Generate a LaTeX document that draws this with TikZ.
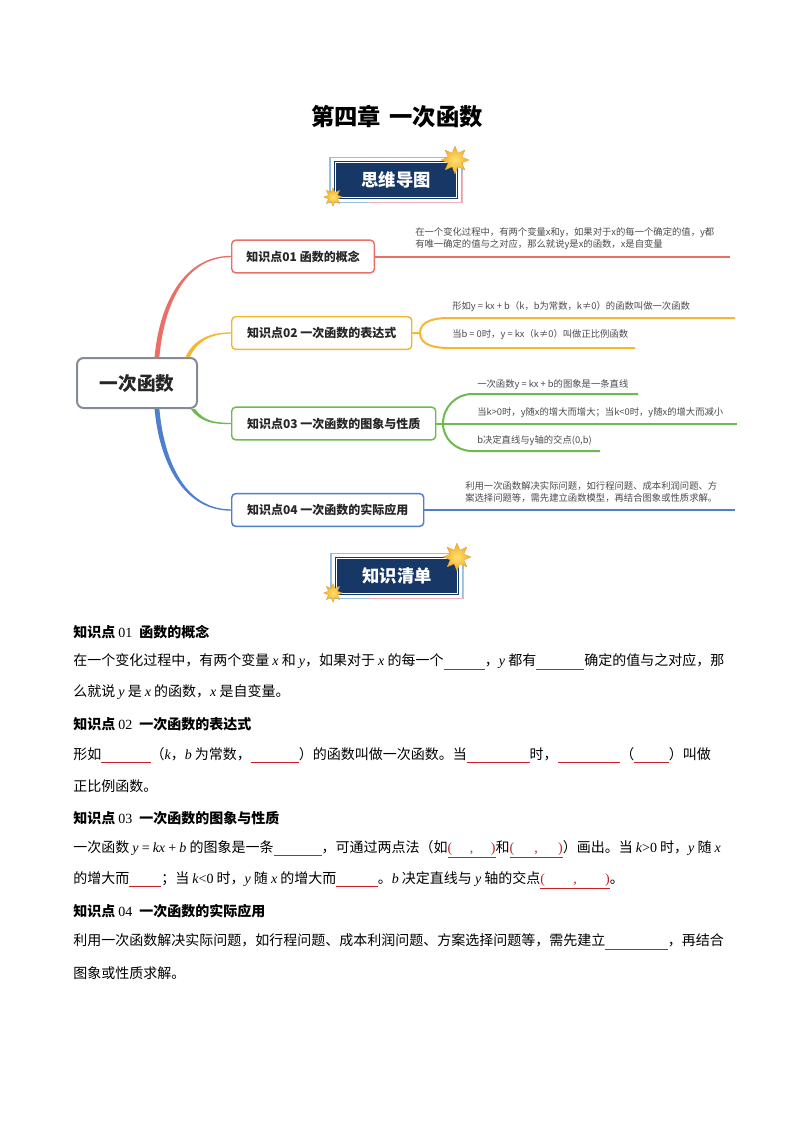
\documentclass[tikz,border=0pt]{standalone}
\usepackage{fontspec}
\setmainfont{Noto Sans CJK SC}
\newfontfamily\tnr{Liberation Serif}
\usepackage{xcolor}
\usetikzlibrary{shapes.geometric}
\definecolor{HubGray}{RGB}{133,139,149}
\definecolor{RedLine}{RGB}{236,111,102}
\definecolor{GoldLine}{RGB}{245,183,49}
\definecolor{GreenLine}{RGB}{109,187,78}
\definecolor{BlueLine}{RGB}{77,127,207}
\definecolor{Navy}{RGB}{23,55,102}
\definecolor{FrameBlue}{RGB}{150,190,225}
\definecolor{FramePink}{RGB}{240,175,185}
\definecolor{StarGold}{RGB}{255,226,110}
\definecolor{StarOrange}{RGB}{244,170,40}
\definecolor{BlankRed}{RGB}{200,30,40}
\newcommand\varit[1]{{\tnr\itshape #1}}
\newcommand\tnrup[1]{{\tnr\mdseries #1}}
\newcommand\blank[1]{\textcolor{BlankRed}{\rule[-3pt]{#1}{0.6pt}}}
\newcommand\pblank[1]{\textcolor{BlankRed}{\underline{\hbox to #1{\tnr(\hfil,\hfil)}}}}
\tikzset{
  hubbox/.style={draw=HubGray,line width=1.5pt,rounded corners=5pt,fill=white,minimum width=90pt,minimum height=37.5pt,font=\fontsize{14pt}{16pt}\selectfont\bfseries,text=black!85},
  topicbox/.style={draw=#1,line width=1.1pt,rounded corners=3pt,fill=white,anchor=west,minimum height=24.5pt,inner xsep=8pt,font=\fontsize{9pt}{11pt}\selectfont\bfseries,text=black!85},
  leaf/.style={draw=#1,line width=1.5pt},
  leafnote/.style={anchor=west,inner sep=0pt,align=left,font=\fontsize{7pt}{9pt}\selectfont,text=black!70},
  bannerframe/.style={draw=FrameBlue,line width=0.8pt,minimum width=99pt,minimum height=33.5pt,inner sep=0pt},
  bannerbox/.style={draw=Navy,fill=Navy,line width=0.6pt,double=white,double distance=1pt,minimum width=91pt,minimum height=26.5pt,text=white,font=\fontsize{13pt}{15pt}\selectfont\bfseries},
  sparkle/.style={star,star points=8,star point ratio=1.9,inner sep=0pt,inner color=StarGold,outer color=StarOrange,draw=StarOrange!90!black,line width=0.2pt},
  bodyline/.style={anchor=west,inner sep=0pt,font=\fontsize{10.5pt}{12pt}\selectfont},
  headline/.style={bodyline,font=\fontsize{10.5pt}{12pt}\selectfont\bfseries}
}
\begin{document}
\begin{tikzpicture}[x=0.75pt,y=-0.75pt]
\useasboundingbox (0,0) rectangle (793,1122);
\fill[white] (0,0) rectangle (793,1122);
\node[font=\fontsize{17.5pt}{20pt}\selectfont\bfseries] (chapter) at (397,117) {第四章\hspace{0.35em}一次函数};

\node[bannerframe] (mapframe) at (396,180) {};
\draw[FramePink,line width=0.8pt] ([xshift=30pt]mapframe.south west) -- (mapframe.south east) -- ([yshift=-12pt]mapframe.north east);
\node[bannerbox] (maplabel) at (mapframe) {思维导图};
\node[sparkle,minimum size=21pt] (mapstar) at (455,160) {};
\node[sparkle,minimum size=14pt] (mapstarsmall) at (333,197) {};

\node[hubbox] (hub) at (137,383) {一次函数};
\node[topicbox=RedLine,minimum width=107pt] (n1) at (231,256.5) {知识点01 函数的概念};
\node[topicbox=GoldLine,minimum width=135pt] (n2) at (231,333) {知识点02 一次函数的表达式};
\node[topicbox=GreenLine,minimum width=153pt] (n3) at (231,423.5) {知识点03 一次函数的图象与性质};
\node[topicbox=BlueLine,minimum width=144pt] (n4) at (231,510) {知识点04 一次函数的实际应用};

\coordinate (r0) at ([xshift=15pt]hub.north);
\coordinate (o0) at ([xshift=38pt]hub.north);
\coordinate (g0) at ([xshift=42pt]hub.south);
\coordinate (b0) at ([xshift=15pt]hub.south);
\fill[RedLine] ([xshift=-1.8pt]r0) to[out=85,in=180] ([yshift=0.5pt]n1.west) -- ([yshift=-0.5pt]n1.west) to[out=180,in=85] ([xshift=1.8pt]r0) -- cycle;
\fill[GoldLine] ([xshift=-1.6pt]o0) to[out=65,in=180] ([yshift=0.5pt]n2.west) -- ([yshift=-0.5pt]n2.west) to[out=180,in=65] ([xshift=1.6pt]o0) -- cycle;
\fill[GreenLine] ([xshift=-1.6pt]g0) to[out=-55,in=180] ([yshift=-0.5pt]n3.west) -- ([yshift=0.5pt]n3.west) to[out=180,in=-55] ([xshift=1.6pt]g0) -- cycle;
\fill[BlueLine] ([xshift=-1.8pt]b0) to[out=-85,in=180] ([yshift=-0.5pt]n4.west) -- ([yshift=0.5pt]n4.west) to[out=180,in=-85] ([xshift=1.8pt]b0) -- cycle;

\coordinate (e1) at (730,256.5);
\draw[leaf=RedLine] (n1.east) -- (e1);
\node[leafnote] (t1) at (415,239) {在一个变化过程中，有两个变量x和y，如果对于x的每一个确定的值，y都\\有唯一确定的值与之对应，那么就说y是x的函数，x是自变量};

\coordinate (b2) at (420,333);
\coordinate (u2) at (448,318);
\coordinate (e2a) at (735,318);
\coordinate (l2) at (448,348);
\coordinate (e2b) at (635,348);
\draw[leaf=GoldLine] (n2.east) -- (b2) to[out=90,in=180] (u2) -- (e2a);
\draw[leaf=GoldLine] (b2) to[out=-90,in=180] (l2) -- (e2b);
\node[leafnote] (t2a) at (452,307) {形如y = kx + b（k，b为常数，k≠0）的函数叫做一次函数};
\node[leafnote] (t2b) at (452,335) {当b = 0时，y = kx（k≠0）叫做正比例函数};

\coordinate (b3) at (443,423.5);
\coordinate (u3) at (472,394);
\coordinate (e3a) at (638,394);
\coordinate (e3m) at (737,423.5);
\coordinate (l3) at (472,451);
\coordinate (e3b) at (600,451);
\draw[leaf=GreenLine] (n3.east) -- (e3m);
\draw[leaf=GreenLine] (b3) to[out=90,in=180] (u3) -- (e3a);
\draw[leaf=GreenLine] (b3) to[out=-90,in=180] (l3) -- (e3b);
\node[leafnote] (t3a) at (477,385) {一次函数y = kx + b的图象是一条直线};
\node[leafnote] (t3b) at (477,413) {当k>0时，y随x的增大而增大；当k<0时，y随x的增大而减小};
\node[leafnote] (t3c) at (477,441) {b决定直线与y轴的交点(0,b)};

\coordinate (e4) at (735,510);
\draw[leaf=BlueLine] (n4.east) -- (e4);
\node[leafnote] (t4) at (465,492.5) {利用一次函数解决实际问题，如行程问题、成本利润问题、方\\案选择问题等，需先建立函数模型，再结合图象或性质求解。};

\node[bannerframe] (listframe) at (397,576) {};
\draw[FramePink,line width=0.8pt] ([xshift=30pt]listframe.south west) -- (listframe.south east) -- ([yshift=-12pt]listframe.north east);
\node[bannerbox] (listlabel) at (listframe) {知识清单};
\node[sparkle,minimum size=21pt] (liststar) at (457,557) {};
\node[sparkle,minimum size=14pt] (liststarsmall) at (333,593) {};

\node[headline] (head1) at (73,632) {知识点 \tnrup{01}\enspace 函数的概念};
\node[bodyline] (line1a) at (73,662) {在一个变化过程中，有两个变量 \varit{x} 和 \varit{y}，如果对于 \varit{x} 的每一个\blank{31pt}，\varit{y} 都有\blank{36pt}确定的值与之对应，那};
\node[bodyline] (line1b) at (73,692) {么就说 \varit{y} 是 \varit{x} 的函数，\varit{x} 是自变量。};
\node[headline] (head2) at (73,724) {知识点 \tnrup{02}\enspace 一次函数的表达式};
\node[bodyline] (line2a) at (73,755) {形如\blank{37pt}（\varit{k}，\varit{b} 为常数，\blank{36pt}）的函数叫做一次函数。当\blank{47pt}时，\blank{47pt}（\blank{26pt}）叫做};
\node[bodyline] (line2b) at (73,786) {正比例函数。};
\node[headline] (head3) at (73,818) {知识点 \tnrup{03}\enspace 一次函数的图象与性质};
\node[bodyline] (line3a) at (73,849) {一次函数 \varit{y} \tnrup{=} \varit{kx} \tnrup{+} \varit{b} 的图象是一条\blank{36pt}，可通过两点法（如\pblank{36pt}和\pblank{40pt}）画出。当 \varit{k}\tnrup{>0} 时，\varit{y} 随 \varit{x}};
\node[bodyline] (line3b) at (73,880) {的增大而\blank{24pt}；当 \varit{k}\tnrup{<0} 时，\varit{y} 随 \varit{x} 的增大而\blank{31pt}。\varit{b} 决定直线与 \varit{y} 轴的交点\pblank{52pt}。};
\node[headline] (head4) at (73,911) {知识点 \tnrup{04}\enspace 一次函数的实际应用};
\node[bodyline] (line4a) at (73,942) {利用一次函数解决实际问题，如行程问题、成本利润问题、方案选择问题等，需先建立\blank{47pt}，再结合};
\node[bodyline] (line4b) at (73,973) {图象或性质求解。};
\end{tikzpicture}
\end{document}
